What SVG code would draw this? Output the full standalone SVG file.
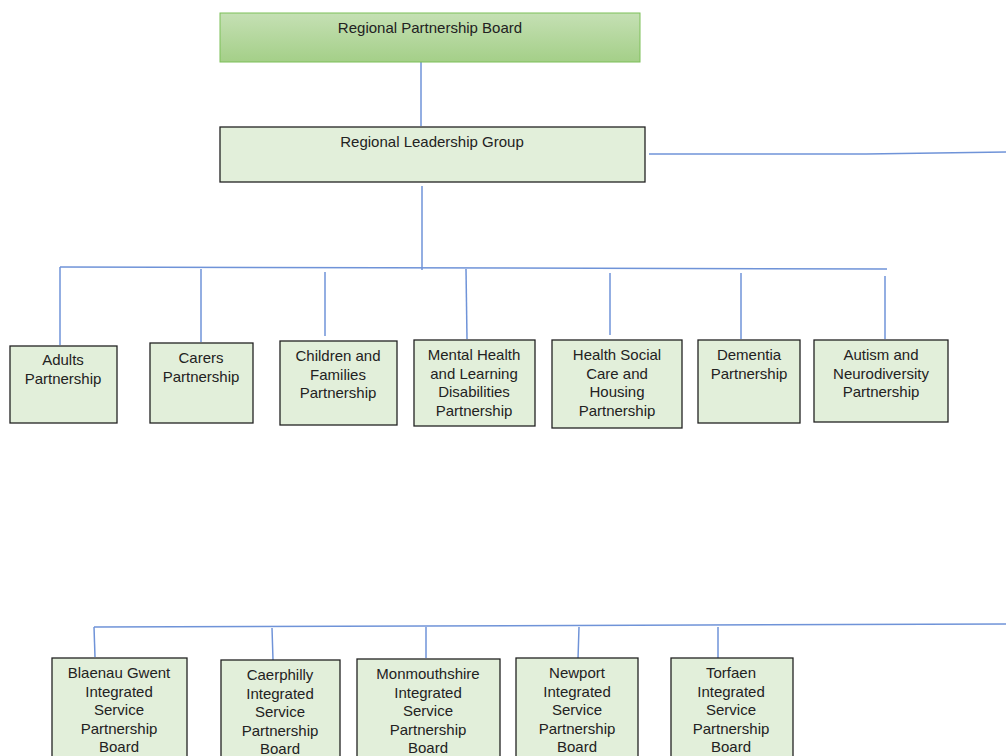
<svg xmlns="http://www.w3.org/2000/svg" width="1006" height="756" viewBox="0 0 1006 756">
<defs>
<linearGradient id="g" x1="0" y1="0" x2="0" y2="1">
<stop offset="0" stop-color="#c5e0b4"/>
<stop offset="1" stop-color="#a4cf88"/>
</linearGradient>
<style>
.b{fill:#e2efda;stroke:#222;stroke-width:1.3}
.t{font-family:"Liberation Sans",Arial,sans-serif;font-size:15px;fill:#222;text-anchor:middle}
.c line{stroke:#6f93d8;stroke-width:1.5;fill:none}
</style>
</defs>
<rect width="1006" height="756" fill="#fff"/>
<g class="c" id="connectors">
<line x1="421" y1="62" x2="421" y2="126"/>
<line x1="649" y1="154" x2="866" y2="154"/>
<line x1="866" y1="154" x2="1006" y2="152"/>
<line x1="422" y1="186" x2="422" y2="270"/>
<line x1="60" y1="267" x2="887" y2="269"/>
<line x1="60" y1="267" x2="60" y2="345"/>
<line x1="201" y1="269" x2="201" y2="342"/>
<line x1="325" y1="272" x2="325" y2="336"/>
<line x1="466" y1="269" x2="467" y2="339"/>
<line x1="610" y1="273" x2="610" y2="335"/>
<line x1="741" y1="273" x2="741" y2="339"/>
<line x1="885" y1="276" x2="885" y2="339"/>
<line x1="94" y1="627" x2="1006" y2="624"/>
<line x1="94" y1="627" x2="95" y2="657"/>
<line x1="272" y1="628" x2="273" y2="660"/>
<line x1="426" y1="627" x2="426" y2="658"/>
<line x1="579" y1="627" x2="578" y2="659"/>
<line x1="718" y1="627" x2="718" y2="658"/>
</g>
<g id="rpb">
<rect x="220" y="13" width="420" height="49" fill="url(#g)" stroke="#7cbf58" stroke-width="1"/>
<text class="t" x="430" y="33">Regional Partnership Board</text>
</g>
<g id="rlg">
<rect class="b" x="220" y="127" width="425" height="55"/>
<text class="t" x="432" y="147">Regional Leadership Group</text>
</g>
<g id="adults">
<rect class="b" x="10" y="346" width="107" height="77"/>
<text class="t" x="63" y="365">Adults</text><text class="t" x="63" y="384">Partnership</text>
</g>
<g id="carers">
<rect class="b" x="150" y="343" width="103" height="80"/>
<text class="t" x="201" y="363">Carers</text><text class="t" x="201" y="382">Partnership</text>
</g>
<g id="children">
<rect class="b" x="280" y="341" width="117" height="84"/>
<text class="t" x="338" y="361">Children and</text><text class="t" x="338" y="380">Families</text><text class="t" x="338" y="398">Partnership</text>
</g>
<g id="mental">
<rect class="b" x="414" y="340" width="121" height="86"/>
<text class="t" x="474" y="360">Mental Health</text><text class="t" x="474" y="379">and Learning</text><text class="t" x="474" y="397">Disabilities</text><text class="t" x="474" y="416">Partnership</text>
</g>
<g id="housing">
<rect class="b" x="552" y="340" width="130" height="88"/>
<text class="t" x="617" y="360">Health Social</text><text class="t" x="617" y="379">Care and</text><text class="t" x="617" y="397">Housing</text><text class="t" x="617" y="416">Partnership</text>
</g>
<g id="dementia">
<rect class="b" x="698" y="340" width="102" height="83"/>
<text class="t" x="749" y="360">Dementia</text><text class="t" x="749" y="379">Partnership</text>
</g>
<g id="autism">
<rect class="b" x="814" y="340" width="134" height="82"/>
<text class="t" x="881" y="360">Autism and</text><text class="t" x="881" y="379">Neurodiversity</text><text class="t" x="881" y="397">Partnership</text>
</g>
<g id="blaenau">
<rect class="b" x="52" y="658" width="135" height="110"/>
<text class="t" x="119" y="678">Blaenau Gwent</text><text class="t" x="119" y="697">Integrated</text><text class="t" x="119" y="715">Service</text><text class="t" x="119" y="734">Partnership</text><text class="t" x="119" y="752">Board</text>
</g>
<g id="caerphilly">
<rect class="b" x="221" y="660" width="119" height="110"/>
<text class="t" x="280" y="680">Caerphilly</text><text class="t" x="280" y="699">Integrated</text><text class="t" x="280" y="717">Service</text><text class="t" x="280" y="736">Partnership</text><text class="t" x="280" y="754">Board</text>
</g>
<g id="monmouthshire">
<rect class="b" x="357" y="659" width="143" height="110"/>
<text class="t" x="428" y="679">Monmouthshire</text><text class="t" x="428" y="698">Integrated</text><text class="t" x="428" y="716">Service</text><text class="t" x="428" y="735">Partnership</text><text class="t" x="428" y="753">Board</text>
</g>
<g id="newport">
<rect class="b" x="516" y="658" width="122" height="110"/>
<text class="t" x="577" y="678">Newport</text><text class="t" x="577" y="697">Integrated</text><text class="t" x="577" y="715">Service</text><text class="t" x="577" y="734">Partnership</text><text class="t" x="577" y="752">Board</text>
</g>
<g id="torfaen">
<rect class="b" x="671" y="658" width="122" height="110"/>
<text class="t" x="731" y="678">Torfaen</text><text class="t" x="731" y="697">Integrated</text><text class="t" x="731" y="715">Service</text><text class="t" x="731" y="734">Partnership</text><text class="t" x="731" y="752">Board</text>
</g>
</svg>
